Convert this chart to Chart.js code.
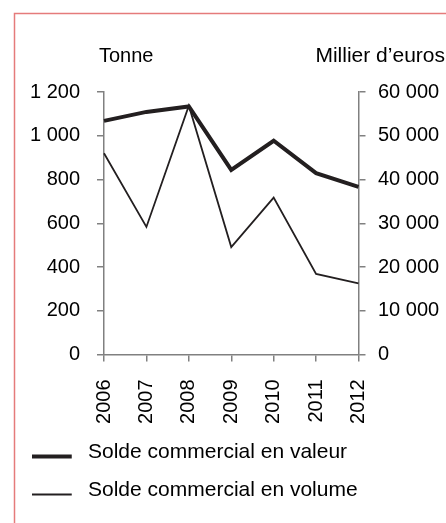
<!DOCTYPE html>
<html><head><meta charset="utf-8">
<script src="https://cdn.jsdelivr.net/npm/chart.js@4"></script>
<style>html,body{margin:0;padding:0;background:#fff;overflow:hidden}#wrap{position:relative;width:446px;height:523px}</style>
</head><body><div id="wrap"><canvas id="c" width="446" height="523"></canvas></div>
<script>
const years = ['2006','2007','2008','2009','2010','2011','2012'];
const valeur = [53400, 55450, 56700, 42200, 48850, 41450, 38300];
const volume = [920, 583, 1137, 491, 717, 368, 325];
const tonneTickValues = [0, 200, 400, 600, 800, 1000, 1200];
const tonneTickLabels = ['0', '200', '400', '600', '800', '1 000', '1 200'];
const euroTickValues = [0, 10000, 20000, 30000, 40000, 50000, 60000];
const euroTickLabels = ['0', '10 000', '20 000', '30 000', '40 000', '50 000', '60 000'];
const seriesNames = ['Solde commercial en valeur', 'Solde commercial en volume'];
const axisTitles = ['Tonne', 'Millier d’euros'];

const FONT = '"Liberation Sans", Arial, Helvetica, sans-serif';
const INK = '#231f20';
const AXIS = '#808080';

function legendLine(thickness){
  const c = document.createElement('canvas');
  c.width = 46; c.height = 16;
  const g = c.getContext('2d');
  g.fillStyle = INK;
  g.fillRect(0, 12 - thickness/2, 40, thickness);
  return c;
}

const framePlugin = {
  id: 'frame',
  beforeDraw(chart){
    const ctx = chart.ctx;
    ctx.save();
    ctx.strokeStyle = '#e57b7b';
    ctx.lineWidth = 1.5;
    ctx.beginPath();
    ctx.moveTo(14.5, chart.height + 2);
    ctx.lineTo(14.5, 13.5);
    ctx.lineTo(chart.width + 2, 13.5);
    ctx.stroke();
    ctx.restore();
  }
};

const axisTitlePlugin = {
  id: 'axisTitles',
  afterDraw(chart){
    const ctx = chart.ctx;
    const yl = chart.scales.yL, yr = chart.scales.yR;
    ctx.save();
    ctx.fillStyle = '#000';
    ctx.textBaseline = 'alphabetic';
    ctx.textAlign = 'left';
    ctx.font = '20px ' + FONT;
    ctx.fillText(yl.options.title.text, yl.right - 5, 62);
    ctx.textAlign = 'right';
    ctx.font = '21px ' + FONT;
    ctx.fillText(yr.options.title.text, chart.width - 1, 62);
    ctx.restore();
  }
};

const tickFont = {family: FONT, size: 20};

new Chart(document.getElementById('c'), {
  type: 'line',
  data: {
    labels: years,
    datasets: [
      {label: seriesNames[0], data: valeur, yAxisID: 'yR', borderColor: INK, backgroundColor: INK,
       borderWidth: 4, pointRadius: 0, tension: 0, borderJoinStyle: 'miter', pointStyle: legendLine(4)},
      {label: seriesNames[1], data: volume, yAxisID: 'yL', borderColor: INK, backgroundColor: INK,
       borderWidth: 1.8, pointRadius: 0, tension: 0, borderJoinStyle: 'miter', pointStyle: legendLine(2)}
    ]
  },
  options: {
    responsive: false,
    animation: false,
    devicePixelRatio: 1,
    layout: {padding: {top: 92, left: 15, right: 0, bottom: 12}},
    plugins: {
      tooltip: {enabled: false},
      title: {display: false},
      legend: {
        position: 'bottom',
        align: 'start',
        maxHeight: 100.5,
        labels: {
          usePointStyle: true,
          pointStyleWidth: 45.5,
          padding: 17,
          color: '#000',
          font: {family: FONT, size: 21}
        }
      }
    },
    scales: {
      x: {
        type: 'category',
        offset: false,
        grid: {drawOnChartArea: false, drawTicks: true, tickLength: 7, color: AXIS, lineWidth: 1.5},
        border: {display: true, color: AXIS, width: 1.5},
        ticks: {minRotation: 90, maxRotation: 90, autoSkip: false, padding: 18, color: '#000', font: tickFont},
        afterFit(s){ s.height = 70.5; }
      },
      yL: {
        position: 'left',
        min: 0, max: 1200,
        title: {display: false, text: axisTitles[0]},
        grid: {drawOnChartArea: false, drawTicks: true, tickLength: 7, color: AXIS, lineWidth: 1.5},
        border: {display: true, color: AXIS, width: 1.5},
        ticks: {stepSize: 200, padding: 17, color: '#000', font: tickFont,
          callback: v => tonneTickLabels[tonneTickValues.indexOf(v)]},
        afterFit(s){ s.width = 89; }
      },
      yR: {
        position: 'right',
        min: 0, max: 60000,
        title: {display: false, text: axisTitles[1]},
        grid: {drawOnChartArea: false, drawTicks: true, tickLength: 7, color: AXIS, lineWidth: 1.5},
        border: {display: true, color: AXIS, width: 1.5},
        ticks: {stepSize: 10000, padding: 12.5, color: '#000', font: tickFont,
          callback: v => euroTickLabels[euroTickValues.indexOf(v)]},
        afterFit(s){ s.width = 87.5; }
      }
    }
  },
  plugins: [framePlugin, axisTitlePlugin]
});
</script>
</body></html>
